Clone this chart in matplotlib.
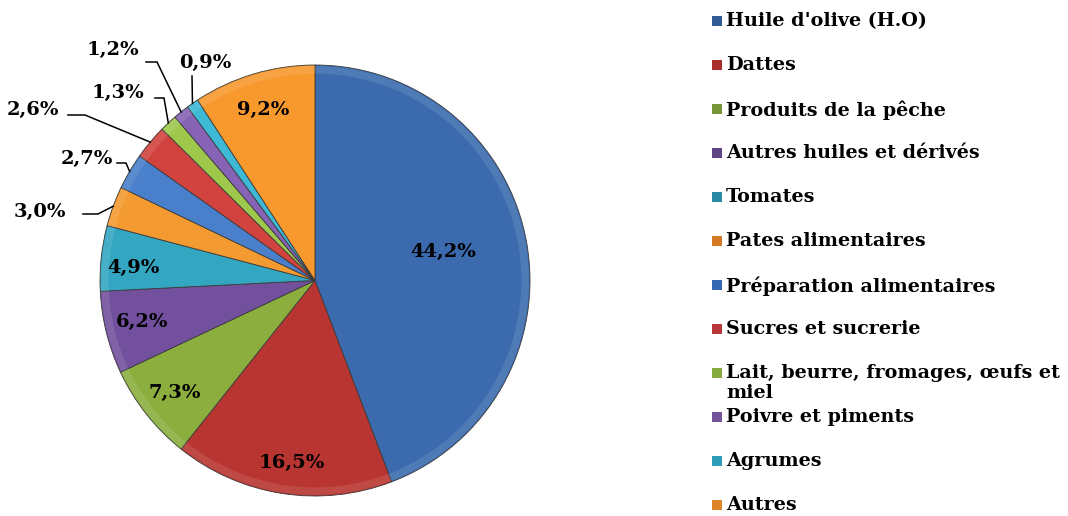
import matplotlib
matplotlib.use("Agg")
import matplotlib.pyplot as plt
from matplotlib.patches import Rectangle, Wedge
import numpy as np

categories = ["Huile d'olive (H.O)", "Dattes", "Produits de la pêche",
              "Autres huiles et dérivés", "Tomates", "Pates alimentaires",
              "Préparation alimentaires", "Sucres et sucrerie",
              "Lait, beurre, fromages, œufs et\nmiel", "Poivre et piments",
              "Agrumes", "Autres"]
values = [44.2, 16.5, 7.3, 6.2, 4.9, 3.0, 2.7, 2.6, 1.3, 1.2, 0.9, 9.2]
value_labels = ["44,2%", "16,5%", "7,3%", "6,2%", "4,9%", "3,0%",
                "2,7%", "2,6%", "1,3%", "1,2%", "0,9%", "9,2%"]

colors = ["#3B6BAE", "#B83531", "#8BAE3F", "#73509E", "#33A6C2", "#F39A30",
          "#4A7FCB", "#D24340", "#9DC84B", "#8763B5", "#3DB9D6", "#F8992E"]
legend_colors = ["#2F5A93", "#A8302D", "#77963A", "#604585", "#2B8AA3", "#D47A25",
                 "#3568B0", "#B8383A", "#86AA40", "#72539A", "#2F9CB8", "#E0842A"]

FONT = "DejaVu Serif"
fig = plt.figure(figsize=(10.68, 5.16), dpi=100)
ax = fig.add_axes([100/1068, (516-496)/516, 430/1068, 431/516])

wedges, _ = ax.pie(values, colors=colors, startangle=90, counterclock=False,
                   radius=1.0,
                   wedgeprops=dict(edgecolor="#3a3a3a", linewidth=0.6))
# soft bevel on outer rim
for w in wedges:
    ax.add_patch(Wedge((0, 0), 0.995, w.theta1, w.theta2, width=0.035,
                       facecolor="white", alpha=0.10, edgecolor="none"))
ax.set_xlim(-1, 1)
ax.set_ylim(-1, 1)
ax.set_aspect("auto")
ax.axis("off")


def px2d(px, py):
    return ((px - 315) / 215.0, (280.5 - py) / 215.5)

# label positions (pixel layout)
label_pos = [(443, 252), (292, 463), (175, 393), (142, 322), (133, 268),
             (40, 212), (87, 159), (33, 110), (118, 93), (113, 50),
             (205, 63), (263, 110)]
# leader lines: horizontal segment near label, then to slice edge
leaders = {5: [(83, 214), (98, 214)], 6: [(117, 163), (126, 163)],
           7: [(68, 115), (85, 115)], 8: [(155, 98), (164, 98)],
           9: [(146, 62), (157, 62)], 10: [(192, 76), (192, 76)]}

for i, (w, lab) in enumerate(zip(wedges, value_labels)):
    x, y = px2d(*label_pos[i])
    ax.text(x, y, lab, ha="center", va="center", fontsize=14, fontweight="bold",
            family=FONT, color="black", clip_on=False)
    if i in leaders:
        mid = np.deg2rad((w.theta1 + w.theta2) / 2)
        ex, ey = 1.0 * np.cos(mid), 1.0 * np.sin(mid)
        pts = [px2d(*p) for p in leaders[i]] + [(ex, ey)]
        ax.plot([p[0] for p in pts], [p[1] for p in pts], color="black",
                lw=1.1, clip_on=False, solid_joinstyle="miter")

# legend
y0 = 21
for i, (cat, lc) in enumerate(zip(categories, legend_colors)):
    yc = y0 + 44 * i
    fig.add_artist(Rectangle((712/1068, (516 - yc - 5)/516), 10/1068, 10/516,
                             transform=fig.transFigure, facecolor=lc,
                             edgecolor="none"))
    fig.text(726/1068, (516 - yc + 9)/516, cat, ha="left", va="top",
             fontsize=13.8, fontweight="bold", family=FONT, color="black",
             linespacing=1.12)

fig.savefig("out.png", dpi=100)
